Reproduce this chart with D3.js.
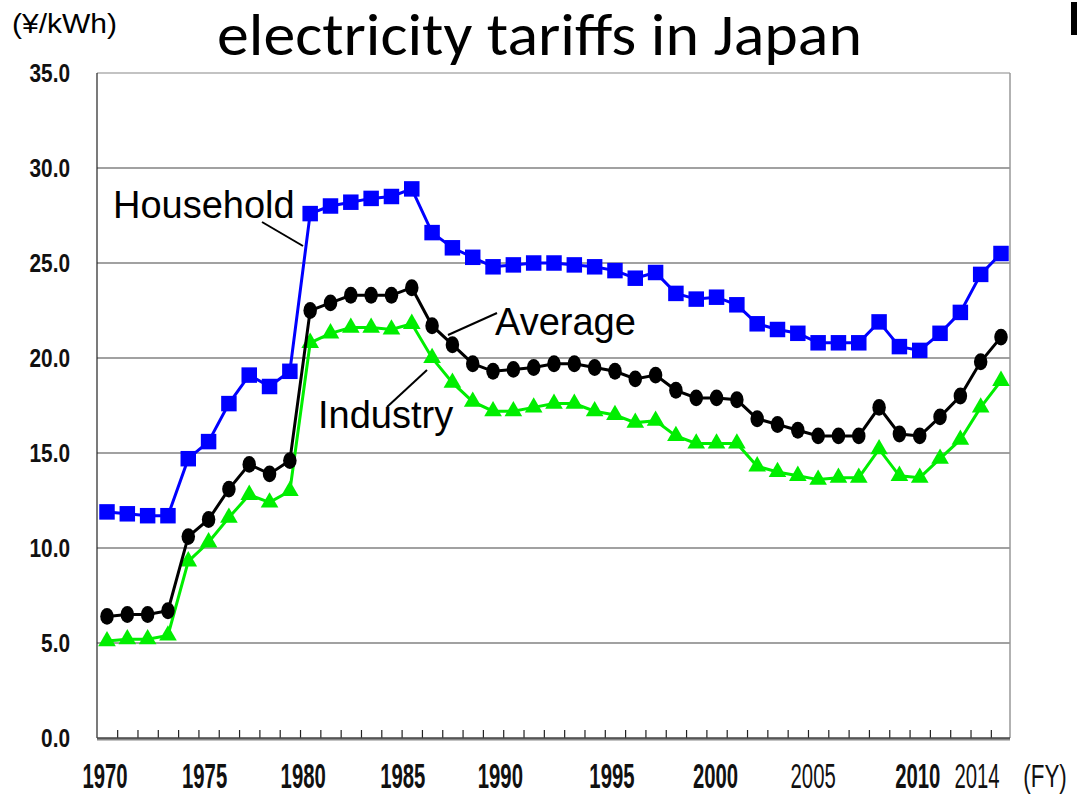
<!DOCTYPE html>
<html>
<head>
<meta charset="utf-8">
<script src="https://cdn.jsdelivr.net/npm/d3@7"></script>
<style>
  body { margin: 0; background: #fff; }
  svg { display: block; }
</style>
</head>
<body>
<svg width="1077" height="795"></svg>
<script>
// FY 1970 - 2014, yen per kWh
const years = d3.range(1970, 2015);
const household = [11.9, 11.8, 11.7, 11.7, 14.7, 15.6, 17.6, 19.1, 18.5, 19.3,
  27.6, 28.0, 28.2, 28.4, 28.5, 28.9, 26.6, 25.8, 25.3, 24.8,
  24.9, 25.0, 25.0, 24.9, 24.8, 24.6, 24.2, 24.5, 23.4, 23.1,
  23.2, 22.8, 21.8, 21.5, 21.3, 20.8, 20.8, 20.8, 21.9, 20.6,
  20.4, 21.3, 22.4, 24.4, 25.5];
const average = [6.4, 6.5, 6.5, 6.7, 10.6, 11.5, 13.1, 14.4, 13.9, 14.6,
  22.5, 22.9, 23.3, 23.3, 23.3, 23.7, 21.7, 20.7, 19.7, 19.3,
  19.4, 19.5, 19.7, 19.7, 19.5, 19.3, 18.9, 19.1, 18.3, 17.9,
  17.9, 17.8, 16.8, 16.5, 16.2, 15.9, 15.9, 15.9, 17.4, 16.0,
  15.9, 16.9, 18.0, 19.8, 21.1];
const industry = [5.1, 5.2, 5.2, 5.4, 9.3, 10.3, 11.6, 12.8, 12.4, 13.0,
  20.8, 21.3, 21.6, 21.6, 21.5, 21.8, 20.0, 18.7, 17.7, 17.2,
  17.2, 17.4, 17.6, 17.6, 17.2, 17.0, 16.6, 16.7, 15.9, 15.5,
  15.5, 15.5, 14.3, 14.0, 13.8, 13.6, 13.7, 13.7, 15.2, 13.8,
  13.7, 14.7, 15.7, 17.4, 18.8];
const yTicks = [0, 5, 10, 15, 20, 25, 30, 35];
const xLabels = [1970, 1975, 1980, 1985, 1990, 1995, 2000, 2005, 2010, 2014];
const xLabelShift = [-2, -4, -7, -9, -13, -3, -1, -5, -2, -24];

const svg = d3.select("svg");
const x = d3.scaleLinear().domain([1970, 2014]).range([107, 1001]);
const y = d3.scaleLinear().domain([0, 35]).range([738, 73]);
const left = 97, right = 1010;

// gridlines
svg.append("g")
  .selectAll("line")
  .data(yTicks.slice(1))
  .join("line")
    .attr("x1", left).attr("x2", right)
    .attr("y1", d => y(d)).attr("y2", d => y(d))
    .attr("stroke", d => d === 35 ? "#888" : "#444")
    .attr("stroke-width", 1.2);

// right + left border
svg.append("line").attr("x1", right).attr("x2", right).attr("y1", 73).attr("y2", 738)
  .attr("stroke", "#999").attr("stroke-width", 1.5);
svg.append("line").attr("x1", left).attr("x2", left).attr("y1", 73).attr("y2", 738)
  .attr("stroke", "#222").attr("stroke-width", 1.2);

// y tick labels
svg.append("g")
  .selectAll("text")
  .data(yTicks)
  .join("text")
    .attr("transform", d => `translate(70,${y(d)}) scale(0.8,1)`)
    .attr("text-anchor", "end")
    .attr("dy", "0.36em")
    .attr("font-family", "Liberation Sans, Arial, sans-serif")
    .attr("font-weight", "bold")
    .attr("font-size", 26)
    .attr("fill", "#111")
    .text(d => d.toFixed(1));

// x axis with inward ticks between years
const xAxis = d3.axisBottom(x)
  .tickValues(d3.range(1970.5, 2014, 1))
  .tickSize(-8)
  .tickFormat("");
const gx = svg.append("g").attr("transform", "translate(0,738)").call(xAxis);
gx.select(".domain").remove();
gx.selectAll(".tick line").attr("stroke", "#222").attr("stroke-width", 1.2);
svg.append("line").attr("x1", left).attr("x2", right).attr("y1", 739).attr("y2", 739)
  .attr("stroke", "#888").attr("stroke-width", 3);
svg.append("line").attr("x1", left).attr("x2", right).attr("y1", 738).attr("y2", 738)
  .attr("stroke", "#222").attr("stroke-width", 1.2);

// x labels
svg.append("g")
  .selectAll("text")
  .data(xLabels)
  .join("text")
    .attr("transform", (d, i) => `translate(${x(d) + xLabelShift[i]},788) scale(0.58,1)`)
    .attr("text-anchor", "middle")
    .attr("font-family", "Liberation Sans, Arial, sans-serif")
    .attr("font-weight", d => (d === 2005 || d === 2014) ? "normal" : "bold")
    .attr("font-size", 35)
    .attr("fill", "#111")
    .text(d => d);
svg.append("text")
  .attr("transform", "translate(1045,787) scale(0.7,1)")
  .attr("text-anchor", "middle")
  .attr("font-family", "Liberation Sans, Arial, sans-serif")
  .attr("font-size", 32)
  .attr("fill", "#111")
  .text("(FY)");

// series
const series = [
  { name: "Household", values: household, color: "#0000ff", shape: d3.symbolSquare, size: 240 },
  { name: "Average", values: average, color: "#000000", shape: d3.symbolCircle, size: 185 },
  { name: "Industry", values: industry, color: "#00ee00", shape: d3.symbolTriangle, size: 135 }
];
const line = d3.line().x((d, i) => x(years[i])).y(d => y(d));

series.slice().reverse().forEach(s => {
  const g = svg.append("g");
  g.append("path")
    .attr("d", line(s.values))
    .attr("fill", "none")
    .attr("stroke", s.color)
    .attr("stroke-width", 3);
  g.selectAll("path.m")
    .data(s.values)
    .join("path")
      .attr("class", "m")
      .attr("transform", (d, i) => s.shape === d3.symbolCircle
        ? `translate(${x(years[i])},${y(d)}) scale(0.88,1.1)`
        : `translate(${x(years[i])},${y(d)})`)
      .attr("d", d3.symbol(s.shape, s.size))
      .attr("fill", s.color);
});

// annotations
const labelFont = "Liberation Sans, Arial, sans-serif";
const notes = [
  { text: "Household", tx: 113, ty: 218, line: [262, 222, 303, 246] },
  { text: "Average", tx: 495, ty: 335, line: [448, 335, 497, 313] },
  { text: "Industry", tx: 318, ty: 428, line: [387, 407, 427, 370] }
];
notes.forEach(n => {
  svg.append("line")
    .attr("x1", n.line[0]).attr("y1", n.line[1])
    .attr("x2", n.line[2]).attr("y2", n.line[3])
    .attr("stroke", "#000").attr("stroke-width", 2);
  svg.append("text")
    .attr("x", n.tx).attr("y", n.ty)
    .attr("font-family", labelFont)
    .attr("font-size", 38)
    .attr("fill", "#000")
    .text(n.text);
});

// title + unit
svg.append("text")
  .attr("x", 217).attr("y", 55)
  .attr("textLength", 645)
  .attr("lengthAdjust", "spacingAndGlyphs")
  .attr("font-family", "Carlito, Open Sans, Noto Sans, sans-serif")
  .attr("font-size", 59)
  .attr("fill", "#000")
  .text("electricity tariffs in Japan");
svg.append("text")
  .attr("x", 12).attr("y", 33)
  .attr("textLength", 105)
  .attr("lengthAdjust", "spacingAndGlyphs")
  .attr("font-family", "Liberation Sans, Arial, sans-serif")
  .attr("font-size", 27)
  .attr("fill", "#000")
  .text("(¥/kWh)");

// cropped mark at top right edge
svg.append("rect").attr("x", 1071).attr("y", 2).attr("width", 6).attr("height", 33).attr("fill", "#000");
</script>
</body>
</html>
